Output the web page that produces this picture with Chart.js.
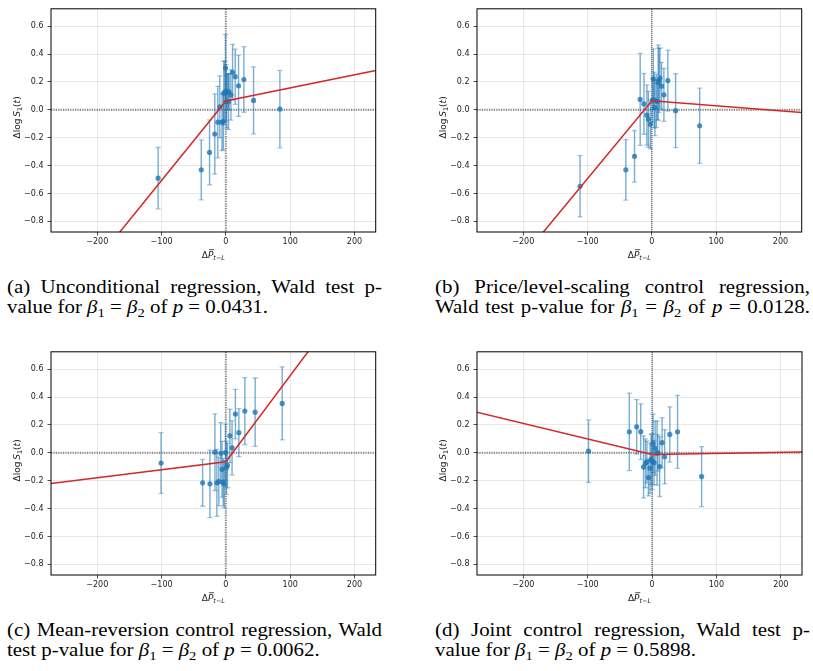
<!DOCTYPE html>
<html><head><meta charset="utf-8">
<script src="https://cdn.jsdelivr.net/npm/chart.js@4.4.0/dist/chart.umd.min.js"></script>
<style>
html,body{margin:0;padding:0;background:#fff;}
#wrap{position:relative;width:813px;height:671px;overflow:hidden;background:#fff;}
canvas{position:absolute;}
.cap{position:absolute;font-family:'Liberation Serif','Times New Roman',serif;font-size:18.5px;line-height:20px;color:#000;transform-origin:0 0;width:375px;}
.cap .l{display:block;white-space:nowrap;}
.cap .j{text-align:justify;text-align-last:justify;white-space:normal;}
.cap sub{font-size:0.7em;vertical-align:-0.3em;line-height:0;}
.mz{position:absolute;visibility:hidden;white-space:nowrap;left:0;top:0;}
</style></head>
<body>
<div id="wrap">
<canvas id="ca" width="400" height="270" style="left:0;top:0;width:400px;height:270px"></canvas>
<canvas id="cb" width="413" height="270" style="left:400px;top:0;width:413px;height:270px"></canvas>
<canvas id="cc" width="400" height="270" style="left:0;top:343px;width:400px;height:270px"></canvas>
<canvas id="cd" width="413" height="270" style="left:400px;top:343px;width:413px;height:270px"></canvas>

<div class="cap" id="capA" style="left:7px;top:277px;">
  <div class="l j">(a) Unconditional regression, Wald test p-</div>
  <div class="l" id="refLine">value for <i>β</i><sub>1</sub> = <i>β</i><sub>2</sub> of <i>p</i> = 0.0431.</div>
</div>
<div class="cap" id="capB" style="left:435px;top:277px;">
  <div class="l j">(b) Price/level-scaling control regression,</div>
  <div class="l j">Wald test p-value for <i>β</i><sub>1</sub> = <i>β</i><sub>2</sub> of <i>p</i> = 0.0128.</div>
</div>
<div class="cap" id="capC" style="left:7px;top:620px;">
  <div class="l j">(c) Mean-reversion control regression, Wald</div>
  <div class="l">test p-value for <i>β</i><sub>1</sub> = <i>β</i><sub>2</sub> of <i>p</i> = 0.0062.</div>
</div>
<div class="cap" id="capD" style="left:435px;top:620px;">
  <div class="l j">(d) Joint control regression, Wald test p-</div>
  <div class="l">value for <i>β</i><sub>1</sub> = <i>β</i><sub>2</sub> of <i>p</i> = 0.5898.</div>
</div>
</div>

<script>
// ---------- axis ticks ----------
const xTicks = [-200, -100, 0, 100, 200];
const yTicks = [-0.8, -0.6, -0.4, -0.2, 0.0, 0.2, 0.4, 0.6];
const xRange = [-272, 233];
const yRange = [-0.876, 0.725];

// ---------- (a) Unconditional regression ----------
const aX   = [-105.4, -38.3, -25.4, -17.3, -12.6, -9.5, -6.0, -4.0, -3.3, -1.5, -0.6, 0.3, 1.2, 2.5, 4.0, 5.0, 7.8, 10.4, 14.5, 19.7, 28.0, 43.0, 84.0];
const aY   = [-0.49, -0.43, -0.305, -0.173, -0.088, 0.022, -0.088, -0.085, 0.12, 0.13, 0.30, 0.125, 0.06, 0.13, 0.058, 0.13, 0.107, 0.27, 0.238, 0.173, 0.218, 0.068, 0.006];
const aErr = [0.22, 0.215, 0.233, 0.288, 0.257, 0.222, 0.205, 0.2, 0.23, 0.22, 0.24, 0.2, 0.19, 0.13, 0.2, 0.13, 0.18, 0.2, 0.198, 0.22, 0.235, 0.24, 0.278];
const aLineX = [-170, 0, 233];
const aLineY = [-0.905, 0.064, 0.282];

// ---------- (b) Price/level-scaling control ----------
const bX   = [-111.7, -40.5, -27.0, -18.2, -12.3, -7.8, -5.4, -2.3, 1.0, 2.2, 3.5, 4.7, 6.8, 8.5, 9.8, 11.0, 12.5, 15.1, 18.7, 24.8, 36.9, 74.3];
const bY   = [-0.548, -0.43, -0.333, 0.075, 0.043, -0.037, -0.068, -0.104, 0.07, 0.222, 0.07, 0.016, 0.065, 0.06, 0.195, 0.212, 0.228, 0.17, 0.108, 0.21, -0.006, -0.114];
const bErr = [0.22, 0.217, 0.185, 0.33, 0.218, 0.216, 0.2, 0.175, 0.16, 0.215, 0.2, 0.2, 0.19, 0.13, 0.27, 0.23, 0.215, 0.17, 0.19, 0.218, 0.265, 0.27];
const bLineX = [-175, 0, 233];
const bLineY = [-0.911, 0.066, -0.019];

// ---------- (c) Mean-reversion control ----------
const cX   = [-100.8, -36.2, -24.8, -17.0, -14.0, -11.0, -8.0, -6.0, -4.2, -2.5, -0.6, 0.8, 2.5, 6.2, 9.6, 14.8, 20.2, 29.5, 45.5, 87.6];
const cY   = [-0.073, -0.215, -0.222, 0.005, -0.215, -0.205, -0.003, -0.118, -0.21, -0.225, 0.003, -0.106, -0.09, 0.122, 0.036, 0.278, 0.145, 0.30, 0.292, 0.355];
const cErr = [0.218, 0.168, 0.242, 0.275, 0.24, 0.175, 0.22, 0.2, 0.17, 0.17, 0.205, 0.19, 0.16, 0.192, 0.195, 0.178, 0.172, 0.24, 0.245, 0.262];
const cLineX = [-272, 0, 135];
const cLineY = [-0.22, -0.064, 0.77];

// ---------- (d) Joint control ----------
const dX   = [-98.7, -35.3, -23.9, -17.6, -13.2, -10.3, -8.0, -5.6, -3.2, -1.5, 0.2, 1.6, 3.1, 4.7, 7.8, 9.0, 11.8, 15.6, 19.6, 27.6, 39.6, 77.0];
const dY   = [0.012, 0.151, 0.187, 0.152, -0.101, -0.075, -0.065, -0.177, -0.11, -0.047, -0.062, 0.068, -0.07, 0.033, -0.002, 0.0, -0.098, 0.073, -0.028, 0.132, 0.151, -0.17];
const dErr = [0.224, 0.278, 0.195, 0.2, 0.222, 0.175, 0.15, 0.132, 0.18, 0.18, 0.2, 0.21, 0.16, 0.195, 0.23, 0.13, 0.215, 0.18, 0.195, 0.198, 0.262, 0.215];
const dLineX = [-273, 0, 233];
const dLineY = [0.293, -0.012, 0.007];

const BLUE = 'rgba(31,119,180,';
const FONT = "'DejaVu Sans', sans-serif";

function fmtX(v){ return String(v).replace('-', '\u2212'); }
function fmtY(v){ return (Math.abs(v) < 1e-9 ? 0 : v).toFixed(1).replace('-', '\u2212'); }

function drawParts(ctx, parts, startX, baseY){
  let x = startX;
  for (const p of parts){
    ctx.font = p.f;
    ctx.fillText(p.t, x, baseY + (p.dy || 0));
    const w = ctx.measureText(p.t).width;
    if (p.bar){
      ctx.save();
      ctx.lineWidth = 0.8; ctx.strokeStyle = '#222';
      ctx.beginPath(); ctx.moveTo(x + 1.2, baseY - 8.3); ctx.lineTo(x + w + 0.8, baseY - 8.3); ctx.stroke();
      ctx.restore();
    }
    x += w;
  }
}
function partsWidth(ctx, parts){
  let w = 0;
  for (const p of parts){ ctx.font = p.f; w += ctx.measureText(p.t).width; }
  return w;
}

const decor = {
  id: 'decor',
  beforeDatasetsDraw(chart){
    const {ctx, chartArea: ca, scales: {x, y}} = chart;
    const cfg = chart.config.options.plugins.decor;
    ctx.save();
    ctx.beginPath(); ctx.rect(ca.left, ca.top, ca.right - ca.left, ca.bottom - ca.top); ctx.clip();
    const y0 = y.getPixelForValue(0), x0 = x.getPixelForValue(0);
    // horizontal zero line
    ctx.setLineDash([1.2, 1.2]);
    ctx.strokeStyle = 'rgba(0,0,0,0.42)'; ctx.lineWidth = 2.2;
    ctx.beginPath(); ctx.moveTo(ca.left, y0); ctx.lineTo(ca.right, y0); ctx.stroke();
    // vertical zero line
    if (cfg.darkV){ ctx.strokeStyle = 'rgba(0,0,0,0.9)'; ctx.lineWidth = 1; ctx.setLineDash([1, 1]); }
    ctx.beginPath(); ctx.moveTo(x0, ca.top); ctx.lineTo(x0, ca.bottom); ctx.stroke();
    ctx.setLineDash([]);
    // error bars
    const ds = chart.data.datasets[1];
    const err = ds.err;
    ds.data.forEach((pt, i) => {
      const px = x.getPixelForValue(pt.x);
      const top = y.getPixelForValue(pt.y + err[i]);
      const bot = y.getPixelForValue(pt.y - err[i]);
      ctx.strokeStyle = BLUE + '0.6)'; ctx.lineWidth = 1.4;
      ctx.beginPath(); ctx.moveTo(px, top); ctx.lineTo(px, bot); ctx.stroke();
      ctx.strokeStyle = BLUE + '0.4)'; ctx.lineWidth = 1.3;
      ctx.beginPath();
      ctx.moveTo(px - 2.6, top); ctx.lineTo(px + 2.6, top);
      ctx.moveTo(px - 2.6, bot); ctx.lineTo(px + 2.6, bot);
      ctx.stroke();
    });
    ctx.restore();
  },
  afterDraw(chart){
    const {ctx, chartArea: ca} = chart;
    ctx.save();
    ctx.strokeStyle = '#000'; ctx.lineWidth = 1;
    ctx.strokeRect(ca.left, ca.top, ca.right - ca.left, ca.bottom - ca.top);
    ctx.fillStyle = '#222';
    ctx.textAlign = 'left'; ctx.textBaseline = 'alphabetic';
    // x label
    const xp = [
      {t: '\u0394', f: '9px ' + FONT},
      {t: 'P', f: 'italic 9px ' + FONT, bar: true},
      {t: 't\u2212L', f: 'italic 6.5px ' + FONT, dy: 2.3}
    ];
    const xw = partsWidth(ctx, xp);
    drawParts(ctx, xp, (ca.left + ca.right) / 2 - xw / 2, ca.bottom + 26);
    // y label
    const yp = [
      {t: '\u0394log\u2009', f: '9px ' + FONT},
      {t: 'S', f: 'italic 9px ' + FONT},
      {t: '1', f: '6.5px ' + FONT, dy: 1.8},
      {t: '(', f: '9px ' + FONT},
      {t: 't', f: 'italic 9px ' + FONT},
      {t: ')', f: '9px ' + FONT}
    ];
    const yw = partsWidth(ctx, yp);
    ctx.translate(ca.left - 31, (ca.top + ca.bottom) / 2 - 3);
    ctx.rotate(-Math.PI / 2);
    drawParts(ctx, yp, -yw / 2, 0);
    ctx.restore();
  }
};

function makePanel(id, xs, ys, errs, lx, ly, opt){
  const pts = xs.map((v, i) => ({x: v, y: ys[i]}));
  const line = lx.map((v, i) => ({x: v, y: ly[i]}));
  return new Chart(document.getElementById(id), {
    type: 'scatter',
    data: {
      datasets: [
        {data: line, showLine: true, borderColor: '#d62728', borderWidth: 1.5, pointRadius: 0, clip: 0},
        {data: pts, err: errs, pointRadius: 2.6, pointBackgroundColor: BLUE + '0.8)', pointBorderWidth: 0, borderWidth: 0}
      ]
    },
    options: {
      responsive: false, animation: false, devicePixelRatio: 1,
      layout: {padding: {left: 0, right: opt.padR, top: opt.padT, bottom: 0}},
      plugins: {legend: {display: false}, tooltip: {enabled: false}, decor: {darkV: opt.darkV}},
      scales: {
        x: {
          type: 'linear', min: xRange[0], max: xRange[1],
          afterBuildTicks: s => { s.ticks = xTicks.map(v => ({value: v})); },
          afterFit: s => { s.height = 38; },
          ticks: {callback: v => fmtX(v), font: {family: FONT, size: 8}, color: '#222', padding: 2, maxRotation: 0, autoSkip: false},
          grid: {color: 'rgba(0,0,0,0.09)', lineWidth: 1, tickLength: 3.5, tickColor: '#222', tickWidth: 0.8},
          border: {display: false}
        },
        y: {
          type: 'linear', min: yRange[0], max: yRange[1],
          afterBuildTicks: s => { s.ticks = yTicks.map(v => ({value: v})); },
          afterFit: s => { s.width = opt.yW; },
          ticks: {callback: v => fmtY(v), font: {family: FONT, size: 8}, color: '#222', padding: 4, autoSkip: false},
          grid: {color: 'rgba(0,0,0,0.09)', lineWidth: 1, tickLength: 3.5, tickColor: '#222', tickWidth: 0.8},
          border: {display: false}
        }
      }
    },
    plugins: [decor]
  });
}

makePanel('ca', aX, aY, aErr, aLineX, aLineY, {yW: 51, padR: 24.3, padT: 6, darkV: false});
makePanel('cb', bX, bY, bErr, bLineX, bLineY, {yW: 77, padR: 11.3, padT: 6, darkV: true});
makePanel('cc', cX, cY, cErr, cLineX, cLineY, {yW: 51, padR: 24.3, padT: 6.3, darkV: false});
makePanel('cd', dX, dY, dErr, dLineX, dLineY, {yW: 77, padR: 11, padT: 6.3, darkV: true});

// caption horizontal scaling to approximate Computer Modern proportions
function natWidth(el){
  const m = document.createElement('span');
  m.className = 'mz';
  m.innerHTML = el.innerHTML;
  el.parentNode.appendChild(m);
  const w = m.offsetWidth;
  m.remove();
  return w;
}
function fitCaptions(){
  const caps = ['capA', 'capB', 'capC', 'capD'].map(id => document.getElementById(id));
  caps.forEach(c => { c.style.transform = 'none'; c.style.width = '375px'; });
  let k = 278 / natWidth(document.getElementById('refLine'));
  caps.forEach(c => c.querySelectorAll('.j').forEach(l => {
    k = Math.min(k, 0.985 * 375 / natWidth(l));
  }));
  caps.forEach(c => {
    c.style.width = (375 / k) + 'px';
    c.style.transform = 'scaleX(' + k + ')';
  });
}
fitCaptions();
if (document.fonts && document.fonts.ready) document.fonts.ready.then(fitCaptions);
</script>
</body></html>
